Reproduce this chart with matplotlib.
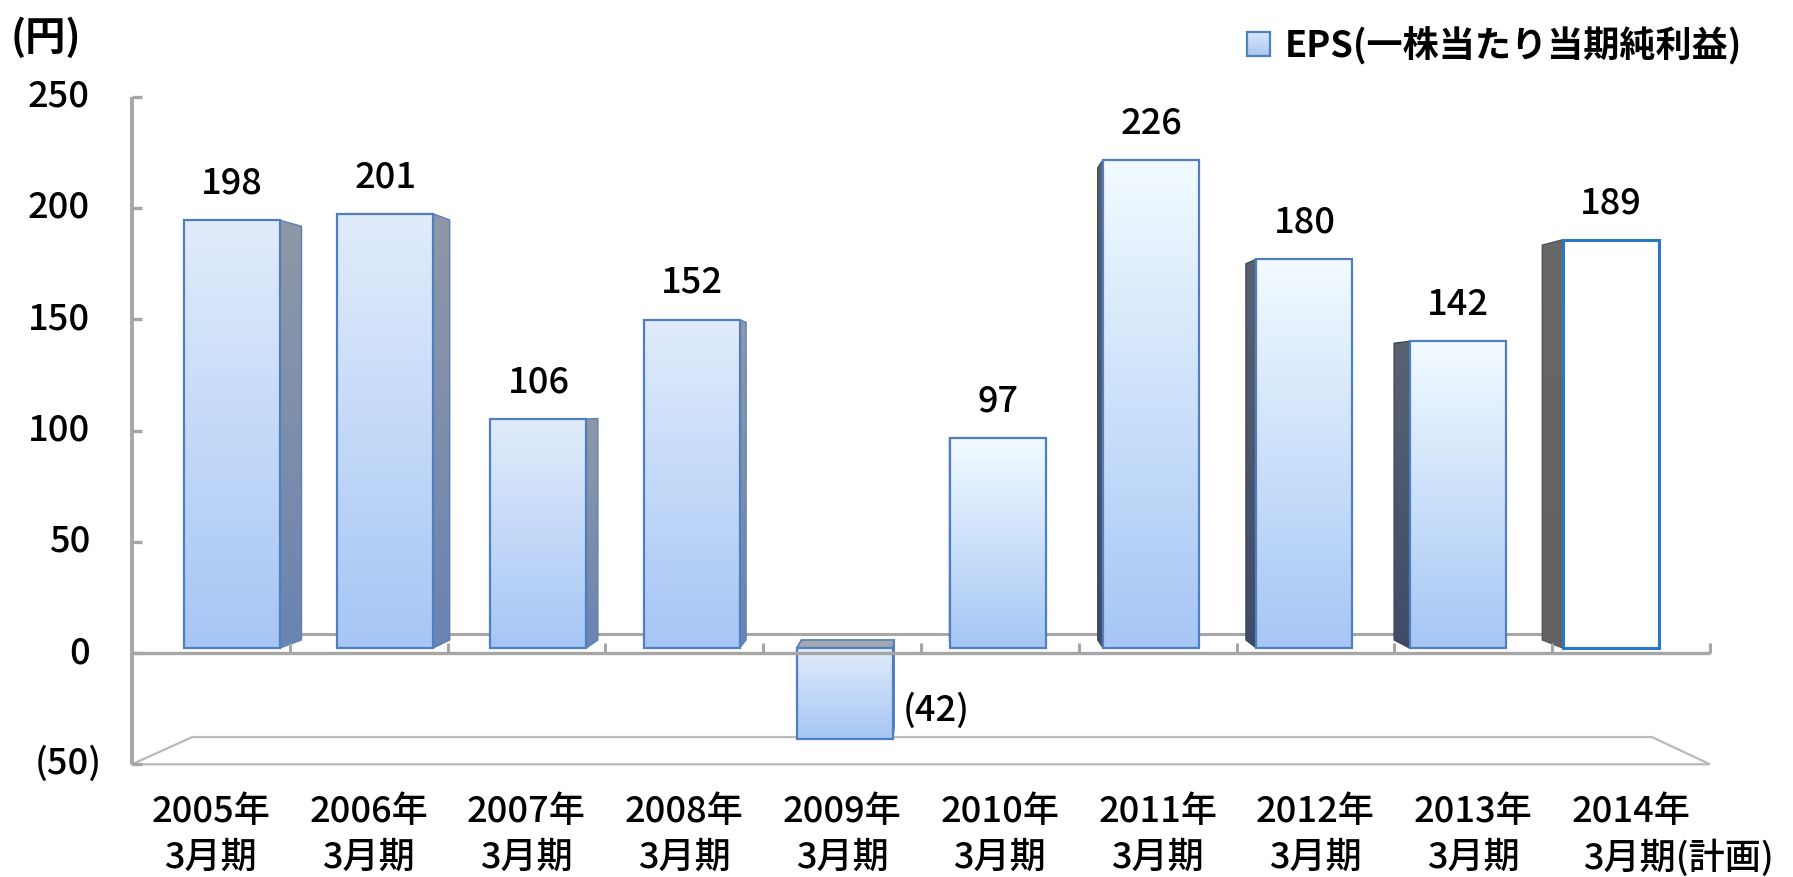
import numpy as np
import matplotlib
matplotlib.use("Agg")
import matplotlib.pyplot as plt
from matplotlib.patches import Polygon, Rectangle
from matplotlib.colors import to_rgb

plt.rcParams['font.family'] = ['Noto Sans CJK JP', 'DejaVu Sans']

# ---------------- data ----------------
years = ['2005年', '2006年', '2007年', '2008年', '2009年',
         '2010年', '2011年', '2012年', '2013年', '2014年']
periods = ['3月期', '3月期', '3月期', '3月期', '3月期',
           '3月期', '3月期', '3月期', '3月期', '3月期(計画)']
eps = [198, 201, 106, 152, -42, 97, 226, 180, 142, 189]
yticks = [250, 200, 150, 100, 50, 0, -50]
unit_label = '(円)'
legend_label = 'EPS(一株当たり当期純利益)'


def fmt(v):
    return f'({abs(v)})' if v < 0 else f'{v}'


# ---------------- layout / style ----------------
W, H, DPI = 1793, 877, 100
X0PIX, XSTEP = 232, 153.2
FRAME_ZERO, FRAME_SCALE = 653, 2.225
BAR_ZERO, BAR_SCALE = 648, 2.16
VX, VY_FRAME, VY_BAR = 4.6, 113, 114
SPREAD, FLOOR_DEPTH, BAR_DEPTH = 1.03, 0.075, 0.0327
BAR_W = 0.627
YMIN, YMAX = -50, 250
FS = 26
TW = 'medium'

fig = plt.figure(figsize=(W / DPI, H / DPI), dpi=DPI, facecolor='white')
xlim = (-X0PIX / XSTEP, (W - X0PIX) / XSTEP)


def make_ax(z, zero, scale):
    ax = fig.add_axes([0, 0, 1, 1], zorder=z)
    ax.set_xlim(xlim)
    ax.set_ylim((zero - H) / scale, zero / scale)
    ax.axis('off')
    return ax


ax_back = make_ax(0, FRAME_ZERO, FRAME_SCALE)
ax_bar = make_ax(1, BAR_ZERO, BAR_SCALE)
ax_front = make_ax(2, FRAME_ZERO, FRAME_SCALE)


def fx(c):
    return VX + (c - VX) * SPREAD


def recede(x, y, d, vy):
    return x + (VX - x) * d, y + (vy - y) * d


def vgrad(ax, extent, top, bottom, zorder, clip=None):
    t = np.linspace(0, 1, 256)[:, None, None]
    c0 = np.array(to_rgb(top))[None, None, :]
    c1 = np.array(to_rgb(bottom))[None, None, :]
    img = c0 * (1 - t) + c1 * t
    im = ax.imshow(img, extent=extent, origin='upper', aspect='auto',
                   interpolation='bilinear', zorder=zorder)
    if clip is not None:
        im.set_clip_path(clip)
    return im


grey = '#a6a6a6'
light = '#b9b9b9'
n = len(eps)
cl, cr = fx(-0.5), fx(n - 0.5)

# floor (at the axis minimum)
bl = recede(cl, YMIN, FLOOR_DEPTH, VY_FRAME)
br = recede(cr, YMIN, FLOOR_DEPTH, VY_FRAME)
ax_back.plot([cl, bl[0], br[0], cr, cl], [YMIN, bl[1], br[1], YMIN, YMIN],
             color=light, lw=1.6, solid_joinstyle='miter')
# back line at zero
zl = recede(cl, 0, FLOOR_DEPTH, VY_FRAME)
zr = recede(cr, 0, FLOOR_DEPTH, VY_FRAME)
ax_back.plot([zl[0], zr[0]], [zl[1], zr[1]], color=grey, lw=2.2)

# ---------------- bars ----------------
x = np.arange(n)
bars = ax_bar.bar(x, eps, width=BAR_W, facecolor='none',
                  edgecolor='#4f7fbf', linewidth=1.6, zorder=4)
for i, p in enumerate(bars):
    x0 = p.get_x()
    x1 = x0 + p.get_width()
    lo = min(p.get_y(), p.get_y() + p.get_height())
    hi = max(p.get_y(), p.get_y() + p.get_height())
    plan = (i == n - 1)
    right_side = x1 < VX
    xe = x1 if right_side else x0
    xb, hb = recede(xe, hi, BAR_DEPTH, VY_BAR)
    _, lb = recede(xe, lo, BAR_DEPTH, VY_BAR)
    pts = [(xe, hi), (xb, hb), (xb, lb), (xe, lo)]
    if plan:
        stop, sbot, sedge = '#686868', '#626262', '#555555'
    elif right_side:
        stop, sbot, sedge = '#9098a6', '#6a84b1', '#5b80b8'
    else:
        stop, sbot, sedge = '#5a6272', '#3f4c68', '#3c4658'
    side = Polygon(pts, closed=True, facecolor='none', edgecolor=sedge,
                   lw=1.0, zorder=2.1)
    ax_bar.add_patch(side)
    vgrad(ax_bar, (min(xe, xb), max(xe, xb), lo, hi), stop, sbot, 2.0, clip=side)
    # top face visible when top lies below the horizon
    if (VY_BAR - hi) * BAR_DEPTH * BAR_SCALE > 2:
        tp = [(x0, hi), (x1, hi), recede(x1, hi, BAR_DEPTH, VY_BAR),
              recede(x0, hi, BAR_DEPTH, VY_BAR)]
        ax_bar.add_patch(Polygon(tp, closed=True, facecolor='#a3a8b0',
                                 edgecolor='#4f7fbf', lw=1.2, zorder=2.2))
    if plan:
        p.set_facecolor('white')
        p.set_edgecolor('#2a78c2')
        p.set_linewidth(2.2)
    else:
        top = '#e1ecfb' if i < 5 else '#f2fbff'
        vgrad(ax_bar, (x0, x1, lo, hi), top, '#a6c6f5', 3)
    # value labels
    v = eps[i]
    if v >= 0:
        ax_bar.text(x[i], hi + 17, fmt(v), ha='center', va='center',
                    fontsize=FS, fontweight=TW, color='black', zorder=6)
    else:
        ax_bar.text(x1 + 0.065, v + 13, fmt(v), ha='left', va='center',
                    fontsize=FS, fontweight=TW, color='black', zorder=6)

ax_bar.set_xlim(xlim)
ax_bar.set_ylim((BAR_ZERO - H) / BAR_SCALE, BAR_ZERO / BAR_SCALE)

# ---------------- front frame ----------------
ax_front.plot([cl, cr], [0, 0], color=grey, lw=2.4, solid_capstyle='butt')
ax_front.plot([cl, cl], [YMIN, YMAX], color=grey, lw=2.8, solid_capstyle='butt')
for t in yticks:
    ax_front.plot([cl, cl + 0.065], [t, t], color=grey, lw=2.4,
                  solid_capstyle='butt')
    xr = -0.927 if t >= 0 else -0.849
    ax_front.text(xr, t, fmt(t), ha='right', va='center', fontsize=FS,
                  fontweight=TW, color='black')
for k in range(1, n + 1):
    c = fx(k - 0.5)
    ax_front.plot([c, c], [0, 4.5], color=grey, lw=2.2, solid_capstyle='butt')

for i in range(n):
    ax_front.text(fx(i), -71.5, years[i], ha='center', va='center',
                  fontsize=FS, fontweight=TW, color='black')
    if len(periods[i]) > 3:
        ax_front.text(fx(i) - 0.31, -92.1, periods[i], ha='left',
                      va='center', fontsize=FS, fontweight=TW, color='black')
    else:
        ax_front.text(fx(i), -92.1, periods[i], ha='center', va='center',
                      fontsize=FS, fontweight=TW, color='black')

# unit label
ax_front.text(-1.215, 276.4, unit_label, ha='center', va='center',
              fontsize=29, fontweight='bold', color='black')

# legend
sq = Rectangle((6.625, 268.3), 0.15, 10.8, facecolor='none',
               edgecolor='#4f81bd', lw=1.6, zorder=5)
ax_front.add_patch(sq)
vgrad(ax_front, (6.625, 6.775, 268.3, 279.1), '#dce8fb', '#a9c6f2', 4, clip=sq)
ax_front.text(6.873, 272.8, legend_label, ha='left', va='center',
              fontsize=FS, fontweight='bold', color='black')

ax_front.set_xlim(xlim)
ax_front.set_ylim((FRAME_ZERO - H) / FRAME_SCALE, FRAME_ZERO / FRAME_SCALE)

fig.savefig('out.png', dpi=DPI, facecolor='white')
